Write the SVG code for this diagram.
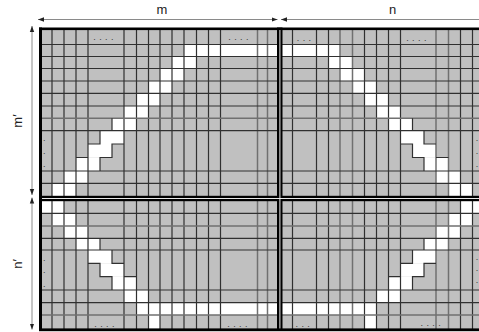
<svg xmlns="http://www.w3.org/2000/svg" width="479" height="332" viewBox="0 0 479 332">
<style>
.d{stroke:#303030;stroke-width:1.2;fill:none}
.g{stroke:#707070;stroke-width:1.5;fill:none}
.w{fill:#ffffff}
.dots{font-family:"Liberation Sans",Arial,sans-serif;font-size:9px;fill:#3a3a3a;letter-spacing:3.4px}
.vd{font-family:"Liberation Sans",Arial,sans-serif;font-size:9px;fill:#3a3a3a}
.lbl{font-family:"Liberation Sans",Arial,sans-serif;font-size:13px;fill:#222222;text-anchor:middle}
.arr{stroke:#8a8a8a;stroke-width:1;fill:none;marker-start:url(#ah);marker-end:url(#ah)}
</style>
<defs>
<marker id="ah" viewBox="0 0 6 6" refX="6" refY="3" markerWidth="6" markerHeight="6" orient="auto-start-reverse" markerUnits="userSpaceOnUse"><path d="M0,0.8 L6,3 L0,5.2 z" fill="#222222"/></marker>
</defs>
<rect width="479" height="332" fill="#ffffff"/>
<g id="matrix">
<rect x="40" y="28" width="445" height="302" fill="#c0c0c0"/>
<g id="band">
<rect class="w" x="184" y="44.5" width="94" height="12"/>
<rect class="w" x="172" y="56.5" width="24.5" height="12"/>
<rect class="w" x="160" y="68.5" width="24" height="12.5"/>
<rect class="w" x="148.5" y="81" width="23.5" height="12.3"/>
<rect class="w" x="136.5" y="93.3" width="23.5" height="12.7"/>
<rect class="w" x="124" y="106" width="24.5" height="12.3"/>
<rect class="w" x="112" y="118.3" width="24.5" height="12.4"/>
<rect class="w" x="100" y="130.7" width="24" height="13.3"/>
<rect class="w" x="88" y="144" width="24" height="13.5"/>
<rect class="w" x="76" y="157.5" width="24" height="13.5"/>
<rect class="w" x="64" y="171" width="24" height="12.3"/>
<rect class="w" x="52" y="183.3" width="24" height="12.7"/>
<rect class="w" x="282" y="44.5" width="58" height="12"/>
<rect class="w" x="328.5" y="56.5" width="24" height="12"/>
<rect class="w" x="340" y="68.5" width="24.5" height="12.5"/>
<rect class="w" x="352.5" y="81" width="24" height="12.3"/>
<rect class="w" x="364.5" y="93.3" width="24" height="12.7"/>
<rect class="w" x="376.5" y="106" width="24" height="12.3"/>
<rect class="w" x="388.5" y="118.3" width="24" height="12.4"/>
<rect class="w" x="400.5" y="130.7" width="23.5" height="13.3"/>
<rect class="w" x="412.5" y="144" width="23.5" height="13.5"/>
<rect class="w" x="424" y="157.5" width="24.5" height="13.5"/>
<rect class="w" x="436" y="171" width="24.5" height="12.3"/>
<rect class="w" x="448.5" y="183.3" width="24" height="12.7"/>
<rect class="w" x="41" y="201" width="23" height="12.3"/>
<rect class="w" x="52" y="213.3" width="24" height="12.7"/>
<rect class="w" x="64" y="226" width="24" height="12.3"/>
<rect class="w" x="76" y="238.3" width="24" height="11.7"/>
<rect class="w" x="88" y="250" width="24" height="13.3"/>
<rect class="w" x="100" y="263.3" width="24" height="13.4"/>
<rect class="w" x="112" y="276.7" width="24.5" height="13.3"/>
<rect class="w" x="124" y="290" width="24.5" height="12.7"/>
<rect class="w" x="136.5" y="302.7" width="240" height="12.3"/>
<rect class="w" x="148.5" y="315" width="11.5" height="14"/>
<rect class="w" x="460.5" y="201" width="24" height="12.3"/>
<rect class="w" x="448.5" y="213.3" width="24" height="12.7"/>
<rect class="w" x="436" y="226" width="24.5" height="12.3"/>
<rect class="w" x="424" y="238.3" width="24.5" height="11.7"/>
<rect class="w" x="412.5" y="250" width="23.5" height="13.3"/>
<rect class="w" x="400.5" y="263.3" width="23.5" height="13.4"/>
<rect class="w" x="388.5" y="276.7" width="24" height="13.3"/>
<rect class="w" x="376.5" y="290" width="24" height="12.7"/>
<rect class="w" x="364.5" y="315" width="12" height="14"/>
</g>
<g id="gridlines">
<path class="d" d="M52,28V330M64,28V330M76,28V330M88,28V330M124,28V330M136.5,28V330M148.5,28V330M160,28V330M172,28V330M184,28V330M196.5,28V330M208.5,28V330M220.5,28V330M292.5,28V330M316.5,28V330M328.5,28V330M364.5,28V330M376.5,28V330M388.5,28V330M400.5,28V330M460.5,28V330M472.5,28V330"/>
<path class="g" d="M257.5,28V330M267.5,28V330M340,28V330M352.5,28V330M436,28V330M448.5,28V330"/>
<path class="d" d="M40,44.5H479M40,56.5H479M40,68.5H479M40,81H479M40,93.3H479M40,106H479M40,130.7H479M40,171H479M40,183.3H479M40,213.3H479M40,238.3H479M40,250H479M40,290H479M40,302.7H479"/>
<path class="g" d="M40,118.3H479M40,226H479M40,315H479"/>
<path class="d" d="M112,118.3V130.7M100,130.7V144H88M76,157.5H88M124,144H112V157.5H100V171M412.5,118.3V130.7M424,130.7V144H436M436,157.5H448.5M400.5,144H412.5V157.5H424V171M100,238.3V250M112,250V263.3H124M124,276.7H136.5M88,263.3H100V276.7H112V290M424,238.3V250M412.5,250V263.3H400.5M388.5,276.7H400.5M436,263.3H424V276.7H412.5V290"/>
</g>
<g id="frame" fill="#000000">
<rect x="39" y="27.5" width="440" height="2.6"/>
<rect x="39" y="27.5" width="3" height="303.5"/>
<rect x="39" y="328.4" width="440" height="2.8"/>
<rect x="277" y="27.5" width="5.5" height="303.5"/>
<rect x="39" y="195.8" width="440" height="5.4"/>
<rect x="279.4" y="30" width="1" height="298.4" fill="#e8e8e8"/>
<rect x="42" y="198" width="437" height="1" fill="#e8e8e8"/>
</g>
<g id="dots">
<text class="dots" x="93.3" y="39.6">....</text>
<text class="dots" x="228.3" y="39.6">....</text>
<text class="dots" x="296.8" y="40.6">...</text>
<text class="dots" x="406.2" y="41.2">....</text>
<text class="dots" x="94.3" y="327.3">....</text>
<text class="dots" x="227.3" y="327.3">....</text>
<text class="dots" x="295.5" y="327.3">...</text>
<text class="dots" x="420.5" y="325.6">....</text>
<text class="vd"><tspan x="43.1" y="141.3">.</tspan><tspan x="43.1" y="153.9">.</tspan><tspan x="43.1" y="167.3">.</tspan></text>
<text class="vd"><tspan x="43.1" y="260.6">.</tspan><tspan x="43.1" y="273.3">.</tspan><tspan x="43.1" y="286.6">.</tspan></text>
<text class="vd"><tspan x="475.8" y="141.3">.</tspan><tspan x="475.8" y="153.9">.</tspan><tspan x="475.8" y="167.3">.</tspan></text>
<text class="vd"><tspan x="475.8" y="259.6">.</tspan><tspan x="475.8" y="271.3">.</tspan><tspan x="475.8" y="282.9">.</tspan></text>
</g>
</g>
<g id="connectors">
<path class="arr" d="M38,19.5H277.5"/>
<path class="arr" d="M281,19.5H487"/>
<path class="arr" d="M32,26V195"/>
<path class="arr" d="M32,197.5V329.5"/>
</g>
<g id="labels">
<text class="lbl" x="162" y="13.5">m</text>
<text class="lbl" x="392.5" y="13.5">n</text>
<text class="lbl" transform="translate(21.5,121) rotate(-90)">m′</text>
<text class="lbl" transform="translate(22,264) rotate(-90)">n′</text>
</g>
</svg>
